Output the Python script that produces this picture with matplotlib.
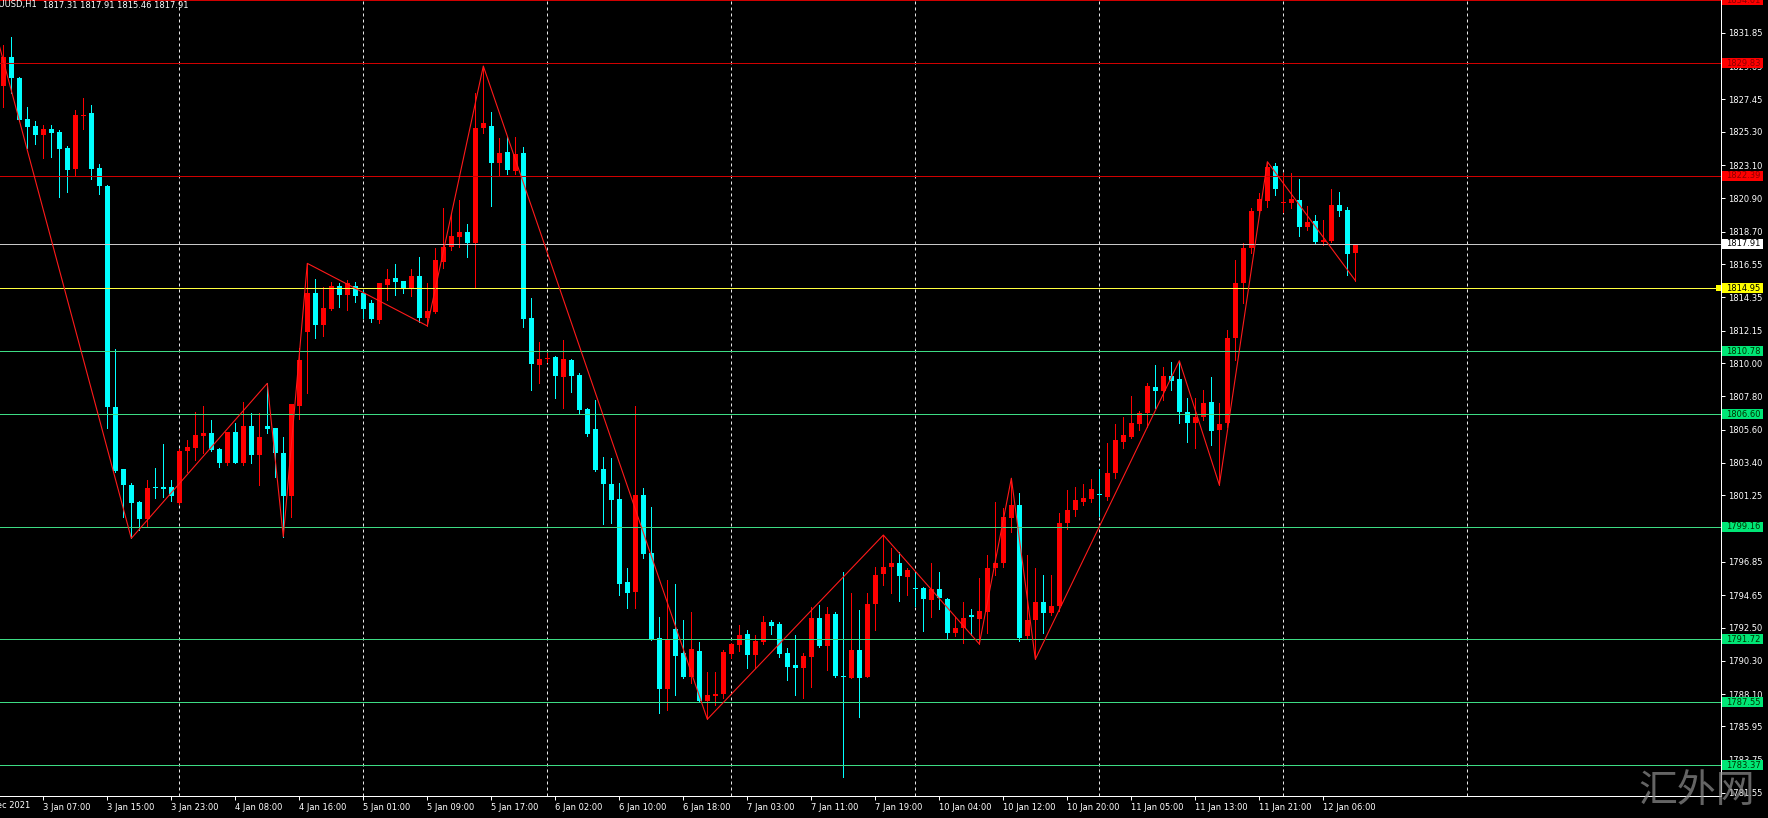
import matplotlib
matplotlib.use("Agg")
import matplotlib.pyplot as plt
from matplotlib.patches import Rectangle
import numpy as np

# XAUUSD H1 candles, bar 0 = 3 Jan 02:00
opens = [1828.36, 1830.28, 1828.89, 1826.15, 1825.69, 1825.10, 1825.49, 1825.27, 1824.26, 1822.85,
         1826.37, 1826.57, 1822.91, 1821.72, 1807.07, 1802.97, 1801.93, 1800.83, 1799.66, 1801.78,
         1801.75, 1801.82, 1800.72, 1804.20, 1804.36, 1805.19, 1805.39, 1804.30, 1803.41, 1805.46,
         1803.41, 1805.84, 1803.92, 1805.84, 1805.68, 1804.07, 1801.20, 1807.18, 1812.08, 1814.66,
         1812.52, 1813.56, 1815.10, 1814.51, 1815.10, 1814.62, 1813.96, 1812.85, 1815.17, 1815.65,
         1815.45, 1814.99, 1815.76, 1812.96, 1813.36, 1816.71, 1817.66, 1818.36, 1818.70, 1817.93,
         1825.54, 1825.69, 1823.26, 1823.95, 1822.73, 1823.88, 1812.96, 1809.87, 1810.25, 1810.38,
         1809.10, 1810.20, 1809.21, 1806.96, 1805.64, 1802.99, 1802.00, 1801.01, 1795.49, 1794.87,
         1801.27, 1797.45, 1791.79, 1788.43, 1792.40, 1790.79, 1789.21, 1790.95, 1787.64, 1787.99,
         1788.08, 1790.75, 1791.34, 1792.07, 1790.68, 1791.56, 1792.85, 1792.73, 1790.79, 1790.02,
         1789.84, 1790.57, 1793.11, 1791.28, 1793.38, 1789.29, 1789.18, 1791.01, 1789.25, 1794.04,
         1796.02, 1796.53, 1796.75, 1795.86, 1795.07, 1795.10, 1794.32, 1795.03, 1794.37, 1792.12,
         1792.49, 1793.33, 1793.04, 1793.55, 1796.42, 1796.75, 1799.73, 1800.61, 1791.94, 1793.00,
         1794.21, 1793.44, 1793.93, 1799.40, 1800.28, 1800.83, 1801.00, 1801.30, 1801.16, 1802.71,
         1804.80, 1805.13, 1805.97, 1806.72, 1808.40, 1808.17, 1809.17, 1808.93, 1806.78, 1806.06,
         1806.45, 1807.45, 1805.57, 1806.01, 1811.64, 1815.28, 1817.60, 1820.07, 1820.75, 1823.04,
         1820.62, 1820.57, 1820.79, 1819.03, 1819.40, 1818.03, 1818.10, 1820.46, 1820.13, 1817.31]
highs = [1831.05, 1831.60, 1828.95, 1826.93, 1826.04, 1825.76, 1825.76, 1825.43, 1824.37, 1826.75,
         1827.56, 1827.08, 1823.18, 1821.80, 1810.91, 1803.00, 1802.04, 1800.90, 1802.26, 1803.04,
         1804.65, 1802.26, 1804.29, 1804.91, 1806.78, 1807.16, 1806.23, 1804.36, 1805.46, 1806.02,
         1807.45, 1806.72, 1806.68, 1808.66, 1805.70, 1805.13, 1807.27, 1810.98, 1816.60, 1815.55,
         1815.06, 1815.39, 1815.32, 1815.50, 1815.39, 1814.84, 1814.18, 1815.32, 1816.21, 1816.56,
         1815.45, 1816.21, 1817.04, 1815.28, 1817.60, 1820.24, 1819.91, 1820.79, 1819.21, 1827.86,
         1829.66, 1826.64, 1824.88, 1824.94, 1824.94, 1824.32, 1814.29, 1811.42, 1810.67, 1810.47,
         1811.53, 1810.25, 1809.36, 1807.01, 1807.56, 1803.77, 1803.70, 1802.04, 1796.42, 1807.18,
         1801.71, 1800.50, 1793.21, 1795.64, 1795.36, 1793.00, 1793.55, 1791.56, 1789.58, 1789.58,
         1791.01, 1791.46, 1792.67, 1792.34, 1792.00, 1793.26, 1793.00, 1792.89, 1791.12, 1792.00,
         1790.79, 1793.88, 1793.99, 1793.84, 1793.55, 1796.20, 1794.76, 1793.66, 1794.76, 1796.53,
         1798.62, 1797.74, 1797.52, 1796.42, 1796.09, 1795.16, 1796.79, 1796.20, 1794.43, 1793.22,
         1794.21, 1793.71, 1795.76, 1797.30, 1800.83, 1800.39, 1802.38, 1801.42, 1797.30, 1796.42,
         1795.98, 1795.98, 1800.10, 1801.60, 1801.82, 1802.00, 1802.30, 1802.97, 1804.69, 1805.97,
         1806.45, 1807.82, 1806.85, 1808.66, 1809.87, 1809.72, 1810.10, 1810.16, 1807.67, 1807.67,
         1808.22, 1809.06, 1807.34, 1812.19, 1816.82, 1817.93, 1820.24, 1821.24, 1823.33, 1823.22,
         1822.56, 1822.56, 1822.16, 1820.40, 1819.80, 1819.47, 1821.50, 1821.34, 1820.35, 1817.91]
lows = [1826.97, 1827.86, 1826.05, 1824.22, 1824.50, 1823.55, 1823.66, 1821.01, 1821.34, 1822.38,
        1825.47, 1822.16, 1821.19, 1805.68, 1802.80, 1799.80, 1798.40, 1798.95, 1799.17, 1801.05,
        1801.16, 1800.87, 1800.70, 1802.81, 1803.59, 1804.03, 1804.20, 1803.14, 1803.25, 1803.41,
        1803.25, 1803.41, 1801.93, 1805.36, 1802.48, 1798.51, 1799.83, 1806.28, 1808.00, 1811.64,
        1811.79, 1813.52, 1813.73, 1813.52, 1814.06, 1812.96, 1812.74, 1812.66, 1814.18, 1814.50,
        1814.62, 1814.47, 1812.74, 1812.46, 1813.30, 1816.27, 1817.48, 1817.70, 1817.00, 1814.95,
        1825.21, 1820.40, 1822.38, 1822.51, 1822.51, 1812.41, 1808.22, 1808.70, 1810.07, 1807.67,
        1807.01, 1808.11, 1806.68, 1805.20, 1802.85, 1799.35, 1799.40, 1794.65, 1793.77, 1793.77,
        1797.08, 1791.70, 1786.82, 1787.04, 1788.03, 1789.14, 1788.81, 1787.60, 1786.43, 1787.37,
        1787.81, 1790.46, 1790.97, 1789.80, 1789.80, 1791.41, 1792.07, 1790.57, 1789.03, 1788.03,
        1787.81, 1788.55, 1791.19, 1789.69, 1789.25, 1782.63, 1789.15, 1786.56, 1789.20, 1792.34,
        1795.31, 1794.76, 1794.28, 1794.65, 1793.92, 1792.29, 1793.22, 1793.71, 1791.79, 1791.94,
        1791.50, 1792.01, 1791.41, 1792.12, 1795.98, 1796.53, 1798.84, 1791.63, 1791.75, 1790.40,
        1792.12, 1793.33, 1793.60, 1799.00, 1799.90, 1800.60, 1800.80, 1799.90, 1800.94, 1802.38,
        1804.36, 1805.02, 1805.57, 1805.79, 1807.01, 1807.56, 1808.22, 1806.06, 1804.80, 1804.36,
        1806.23, 1804.58, 1801.93, 1805.77, 1810.20, 1813.96, 1817.27, 1819.91, 1820.35, 1821.12,
        1820.02, 1820.24, 1818.41, 1818.81, 1817.93, 1817.82, 1818.03, 1819.73, 1815.83, 1815.46]
closes = [1830.28, 1828.89, 1826.09, 1825.64, 1825.10, 1825.49, 1825.25, 1824.17, 1822.78, 1826.42,
          1826.40, 1822.85, 1821.72, 1807.07, 1802.88, 1801.93, 1800.76, 1799.66, 1801.75, 1801.75,
          1801.70, 1801.20, 1804.20, 1804.43, 1805.24, 1805.39, 1804.25, 1803.37, 1805.46, 1803.41,
          1805.84, 1803.92, 1805.09, 1805.62, 1804.03, 1801.20, 1807.27, 1810.20, 1814.66, 1812.52,
          1813.63, 1815.10, 1814.51, 1815.32, 1814.44, 1813.56, 1812.90, 1815.32, 1815.57, 1815.39,
          1814.99, 1815.76, 1812.96, 1813.45, 1816.82, 1817.70, 1818.41, 1818.70, 1817.93, 1825.58,
          1825.91, 1823.26, 1823.88, 1822.78, 1823.84, 1812.90, 1809.92, 1810.25, 1810.27, 1809.15,
          1810.25, 1809.15, 1806.90, 1805.29, 1802.92, 1802.00, 1800.94, 1795.38, 1794.77, 1801.27,
          1797.36, 1791.74, 1788.43, 1791.74, 1790.63, 1789.21, 1791.06, 1787.64, 1788.03, 1788.08,
          1790.90, 1791.41, 1792.00, 1790.68, 1791.61, 1792.89, 1792.62, 1790.75, 1789.91, 1789.84,
          1790.62, 1793.11, 1791.28, 1793.38, 1789.29, 1789.25, 1791.01, 1789.18, 1794.06, 1795.98,
          1796.49, 1796.79, 1795.91, 1796.31, 1795.05, 1794.37, 1795.03, 1794.43, 1792.16, 1792.49,
          1793.11, 1793.18, 1793.59, 1796.42, 1796.79, 1799.79, 1800.61, 1791.79, 1793.00, 1794.21,
          1793.44, 1793.93, 1799.40, 1800.30, 1800.94, 1801.05, 1801.65, 1801.25, 1802.71, 1804.91,
          1805.24, 1806.02, 1806.72, 1808.48, 1808.17, 1809.17, 1808.84, 1806.78, 1806.06, 1806.45,
          1807.38, 1805.53, 1805.97, 1811.64, 1815.28, 1817.60, 1820.07, 1820.84, 1823.00, 1821.50,
          1820.68, 1820.84, 1819.03, 1819.36, 1818.03, 1818.14, 1820.46, 1820.09, 1817.22, 1817.91]

# zigzag turning points (bar index, price)
zz_bars = [-1, 16, 33, 35, 38, 53, 60, 88, 110, 122, 126, 129, 147, 152, 158, 169]
zz_prices = [1832.0, 1798.40, 1808.66, 1798.51, 1816.60, 1812.46, 1829.66, 1786.43, 1798.62,
             1791.41, 1802.38, 1790.40, 1810.16, 1801.93, 1823.33, 1815.46]

# horizontal levels
level_prices = [1834.01, 1829.83, 1822.39, 1817.91, 1814.95, 1810.78, 1806.60, 1799.16, 1791.72, 1787.55, 1783.37]
level_line = ['#d00000', '#d00000', '#d00000', '#c8c8c8', '#ffff40',
              '#3ddc84', '#3ddc84', '#3ddc84', '#3ddc84', '#3ddc84', '#3ddc84']
level_bg = ['#ff0000', '#ff0000', '#ff0000', '#ffffff', '#ffff00',
            '#00e676', '#00e676', '#00e676', '#00e676', '#00e676', '#00e676']
level_fg = ['#8b0000', '#8b0000', '#8b0000', '#000000', '#000000',
            '#003300', '#003300', '#003300', '#003300', '#003300', '#003300']

price_ticks = [1831.85, 1829.65, 1827.45, 1825.30, 1823.10, 1820.90, 1818.70, 1816.55, 1814.35, 1812.15,
               1810.00, 1807.80, 1805.60, 1803.40, 1801.25, 1799.05, 1796.85, 1794.65, 1792.50, 1790.30,
               1788.10, 1785.95, 1783.75, 1781.55]

time_bars = [5, 13, 21, 29, 37, 45, 53, 61, 69, 77, 85, 93, 101, 109, 117, 125, 133, 141, 149, 157, 165]
time_labels = ["3 Jan 07:00", "3 Jan 15:00", "3 Jan 23:00", "4 Jan 08:00", "4 Jan 16:00", "5 Jan 01:00",
               "5 Jan 09:00", "5 Jan 17:00", "6 Jan 02:00", "6 Jan 10:00", "6 Jan 18:00", "7 Jan 03:00",
               "7 Jan 11:00", "7 Jan 19:00", "10 Jan 04:00", "10 Jan 12:00", "10 Jan 20:00",
               "11 Jan 05:00", "11 Jan 13:00", "11 Jan 21:00", "12 Jan 06:00"]

day_bars = [22, 45, 68, 91, 114, 137, 160, 183]

W, H = 1768, 818
PX = 0.72  # one pixel in points at dpi 100

plt.rcParams['font.family'] = ['DejaVu Sans']
fig = plt.figure(figsize=(W / 100, H / 100), dpi=100, facecolor='black')
ax = fig.add_axes([0, (H - 796) / H, 1721 / W, 796 / H])
ax.set_facecolor('black')
ax.set_xlim(-0.41, 214.7)
ax.set_ylim(1781.35, 1834.03)

# day separators
ax.vlines(day_bars, 1781.35, 1834.03, colors='#e8e8e8', lw=PX, linestyles=(0, (3, 3)), zorder=1)

o = np.array(opens)
h = np.array(highs)
l = np.array(lows)
c = np.array(closes)
x = np.arange(len(o))
col = np.where(c >= o, '#ff0000', '#00ffff')

ax.vlines(x, l, h, colors=col, lw=PX, antialiased=False, zorder=3)
ax.bar(x, np.maximum(np.abs(c - o), 0.07), bottom=np.minimum(o, c), width=0.62,
       color=col, lw=0, antialiased=False, zorder=4)

for p, lc in zip(level_prices, level_line):
    ax.axhline(p, color=lc, lw=PX, zorder=5)

ax.plot(zz_bars, zz_prices, color='#ff1a1a', lw=0.8, zorder=6)

# axes look
for s in ['left', 'top']:
    ax.spines[s].set_visible(False)
for s in ['right', 'bottom']:
    ax.spines[s].set_color('white')
    ax.spines[s].set_linewidth(PX)
ax.yaxis.tick_right()
ax.set_yticks(price_ticks)
ax.set_yticklabels([f"{p:.2f}" for p in price_ticks])
ax.tick_params(axis='y', colors='white', labelsize=6, length=3, width=PX, pad=2)
ax.set_xticks(time_bars)
ax.set_xticklabels(time_labels, ha='left')
ax.tick_params(axis='x', colors='white', labelsize=6, length=3, width=PX, pad=2)

# price labels on the right scale
tr = ax.get_yaxis_transform()
for p, bg, fg in zip(level_prices, level_bg, level_fg):
    ax.add_patch(Rectangle((1 + 1 / 1721, p - 0.33), 41 / 1721, 0.66, transform=tr,
                           facecolor=bg, lw=0, clip_on=False, zorder=10))
    ax.text(1 + 5 / 1721, p, f"{p:.2f}", transform=tr, color=fg, fontsize=6,
            ha='left', va='center', clip_on=False, zorder=11)
ax.add_patch(Rectangle((1 - 5 / 1721, 1814.95 - 0.2), 5 / 1721, 0.4, transform=tr,
                       facecolor='#ffff00', lw=0, clip_on=False, zorder=10))

fig.text(30 / W, 1 - 805 / H, "31 Dec 2021", color='white', fontsize=6, ha='right', va='center')
fig.text(37 / W, 1 - 5 / H, "XAUUSD,H1", color='white', fontsize=6, ha='right', va='center')
fig.text(43 / W, 1 - 5 / H, "1817.31 1817.91 1815.46 1817.91", color='white',
         fontsize=6, ha='left', va='center')
fig.text(1697 / W, 1 - 791 / H, "汇外网", color='#909090', alpha=0.7, fontsize=28,
         family=['Noto Sans CJK SC', 'DejaVu Sans'], ha='center', va='center')

fig.savefig('out.png', dpi=100, facecolor='black')
